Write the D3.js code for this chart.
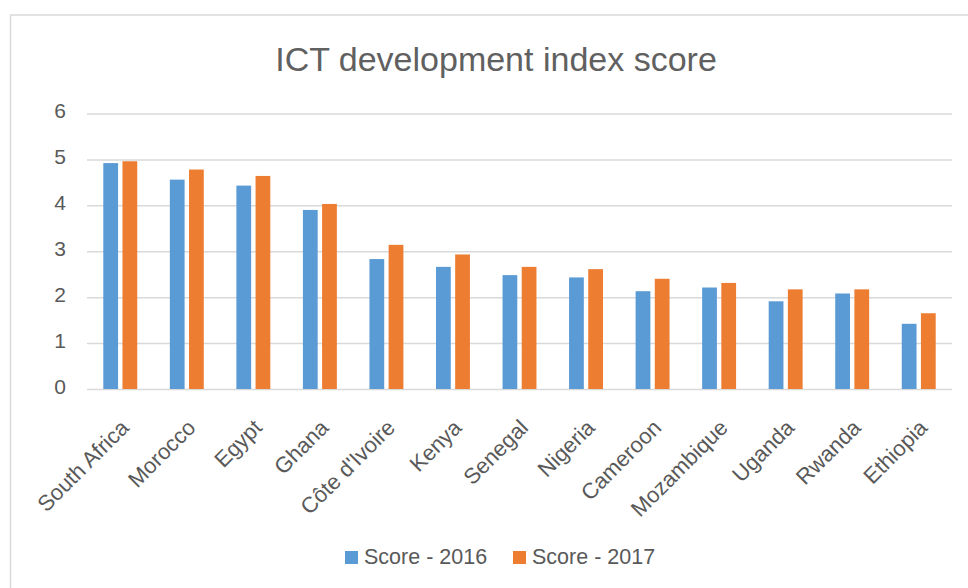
<!DOCTYPE html>
<html>
<head>
<meta charset="utf-8">
<script src="https://cdn.jsdelivr.net/npm/d3@7"></script>
<style>
  body { margin: 0; background: #fff; }
  text { font-family: "Liberation Sans", Arial, sans-serif; fill: #595959; }
</style>
</head>
<body>
<div id="chart"></div>
<script>
// data
const countries = ["South Africa", "Morocco", "Egypt", "Ghana", "Côte d'Ivoire", "Kenya",
  "Senegal", "Nigeria", "Cameroon", "Mozambique", "Uganda", "Rwanda", "Ethiopia"];
const score2016 = [4.92, 4.56, 4.43, 3.90, 2.83, 2.66, 2.48, 2.43, 2.13, 2.21, 1.91, 2.08, 1.42];
const score2017 = [4.96, 4.78, 4.64, 4.03, 3.14, 2.93, 2.66, 2.61, 2.40, 2.31, 2.17, 2.17, 1.65];
const seriesNames = ["Score - 2016", "Score - 2017"];
const colors = ["#5B9BD5", "#ED7D31"];
const yTicks = [0, 1, 2, 3, 4, 5, 6];

const W = 968, H = 588;
const margin = {top: 113.5, right: 16, bottom: 199, left: 87};
const width = W - margin.left - margin.right,
      height = H - margin.top - margin.bottom;

const svg = d3.select("#chart")
  .append("svg")
    .attr("width", W)
    .attr("height", H);

// chart border (runs off the right and bottom edges like the screenshot)
svg.append("rect")
  .attr("x", 10.5).attr("y", 15)
  .attr("width", 980).attr("height", 600)
  .attr("fill", "none")
  .attr("stroke", "#D9D9D9")
  .attr("stroke-width", 1.5);

svg.append("text")
  .attr("x", 496)
  .attr("y", 71)
  .attr("text-anchor", "middle")
  .style("font-size", "34px")
  .style("fill", "#606060")
  .text("ICT development index score");

const g = svg.append("g")
  .attr("transform", "translate(" + margin.left + "," + margin.top + ")");

const rows = countries.map((c, i) => ({country: c, values: [score2016[i], score2017[i]]}));

const x0 = d3.scaleBand()
  .domain(countries)
  .range([0, width])
  .padding(0);

const x1 = d3.scaleBand()
  .domain([0, 1])
  .range([0, x0.bandwidth()])
  .paddingInner(0.23)
  .paddingOuter(0.85);

const y = d3.scaleLinear()
  .domain([0, 6])
  .range([height, 0]);

// gridlines + y labels
const yAxis = g.append("g")
  .call(d3.axisLeft(y).tickValues(yTicks).tickSize(-width).tickPadding(21).tickFormat(d3.format("d")));
yAxis.select(".domain").remove();
yAxis.selectAll("line").attr("stroke", "#D9D9D9").attr("stroke-width", 1.5);
yAxis.selectAll("text")
  .style("font-size", "21px")
  .attr("fill", "#595959")
  .attr("dy", "0.2em");

// bars
const group = g.append("g")
  .selectAll("g")
  .data(rows)
  .join("g")
    .attr("transform", d => "translate(" + x0(d.country) + ",0)");

group.selectAll("rect")
  .data(d => d.values.map((v, k) => ({k: k, v: v})))
  .join("rect")
    .attr("x", d => x1(d.k))
    .attr("y", d => y(d.v))
    .attr("width", x1.bandwidth())
    .attr("height", d => height - y(d.v))
    .attr("fill", d => colors[d.k]);

// rotated category labels
g.append("g")
  .selectAll("text")
  .data(countries)
  .join("text")
    .attr("transform", d => "translate(" + (x0(d) + x0.bandwidth() / 2 + 10) + "," + (height + 40) + ")rotate(-45)")
    .attr("text-anchor", "end")
    .style("font-size", "22px")
    .text(d => d);

// legend
const legend = svg.append("g");
const legendX = [345, 513];
seriesNames.forEach((name, i) => {
  legend.append("rect")
    .attr("x", legendX[i]).attr("y", 551)
    .attr("width", 13).attr("height", 13)
    .attr("fill", colors[i]);
  legend.append("text")
    .attr("x", legendX[i] + 19).attr("y", 564)
    .style("font-size", "21.5px")
    .text(name);
});
</script>
</body>
</html>
